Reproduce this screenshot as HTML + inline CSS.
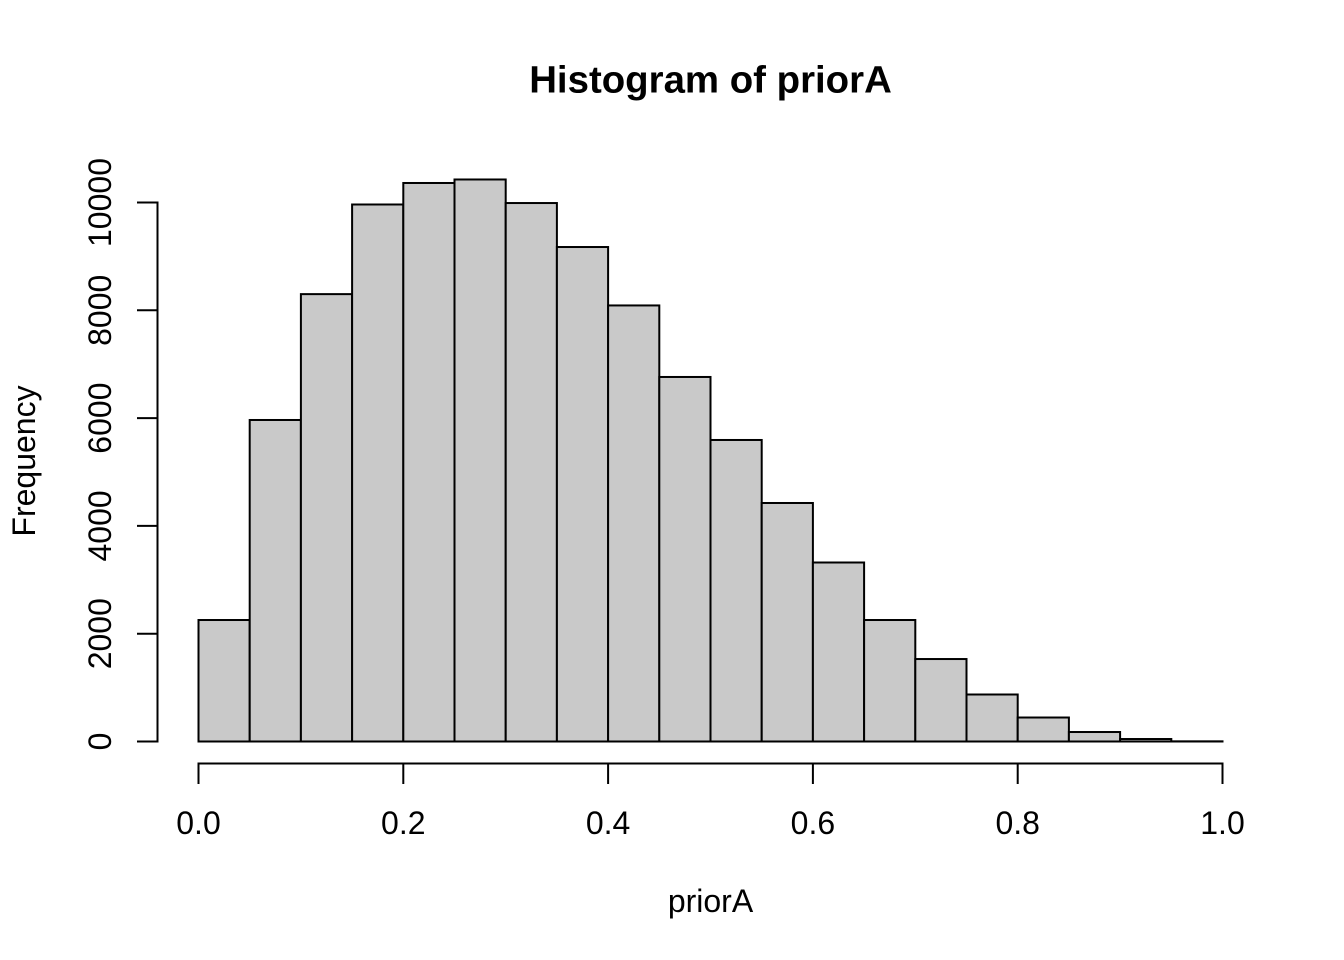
<!DOCTYPE html>
<html>
<head>
<meta charset="utf-8">
<title>Histogram of priorA</title>
<style>
html,body{margin:0;padding:0;background:#fff;}
svg{display:block;}
text{font-family:"Liberation Sans",Arial,sans-serif;fill:#000;}
</style>
</head>
<body>
<svg id="chart" xmlns="http://www.w3.org/2000/svg" width="1344" height="960" viewBox="0 0 1344 960">
  <rect width="1344" height="960" fill="#fff"></rect>
  <text x="710.5" y="92.5" font-size="38.4" font-weight="bold" text-anchor="middle">Histogram of priorA</text>
  <text x="710.5" y="912" font-size="32" text-anchor="middle">priorA</text>
  <text transform="translate(35,461) rotate(-90)" font-size="32" text-anchor="middle">Frequency</text>
  <g id="bars"></g>
  <g id="xaxis"></g>
  <g id="yaxis"></g>
</svg>
<script>
const binEdges = [0,0.05,0.1,0.15,0.2,0.25,0.3,0.35,0.4,0.45,0.5,0.55,0.6,0.65,0.7,0.75,0.8,0.85,0.9,0.95,1.0];
const counts = [2254,5965,8300,9963,10362,10427,9990,9174,8090,6763,5594,4425,3321,2254,1530,872,445,176,46,3];
const xTicks = [0,0.2,0.4,0.6,0.8,1.0];
const xTickLabels = ["0.0","0.2","0.4","0.6","0.8","1.0"];
const yTicks = [0,2000,4000,6000,8000,10000];
const yTickLabels = ["0","2000","4000","6000","8000","10000"];

const NS = "http://www.w3.org/2000/svg";
const xScale = v => 198.5 + v * 1024;
const yScale = v => 741.5 - v * 0.0539;

function make(parent, tag, attrs) {
  const el = document.createElementNS(NS, tag);
  for (const k in attrs) el.setAttribute(k, attrs[k]);
  parent.appendChild(el);
  return el;
}

const barsG = document.getElementById("bars");
counts.forEach((c, i) => {
  const x0 = xScale(binEdges[i]);
  const x1 = xScale(binEdges[i + 1]);
  const y = yScale(c);
  const bar = make(barsG, "rect", {x: x0, y: y, width: x1 - x0, height: yScale(0) - y, fill: "#c9c9c9", stroke: "#000", "stroke-width": 2});
  
  
});

const xG = document.getElementById("xaxis");
const xLine = make(xG, "line", {x1: xScale(xTicks[0]), x2: xScale(xTicks[xTicks.length - 1]), y1: 763.5, y2: 763.5, stroke: "#000", "stroke-width": 2, "stroke-linecap": "square"});


xTicks.forEach((t, i) => {
  const tick = make(xG, "line", {x1: xScale(t), x2: xScale(t), y1: 763.5, y2: 784, stroke: "#000", "stroke-width": 2});
  
  
  const label = make(xG, "text", {x: xScale(t), y: 834, "font-size": 32, "text-anchor": "middle"});
  label.textContent = xTickLabels[i];
  
  
});

const yG = document.getElementById("yaxis");
const yLine = make(yG, "line", {x1: 157.5, x2: 157.5, y1: yScale(yTicks[0]), y2: yScale(yTicks[yTicks.length - 1]), stroke: "#000", "stroke-width": 2, "stroke-linecap": "square"});


yTicks.forEach((t, i) => {
  const tick = make(yG, "line", {x1: 137, x2: 157.5, y1: yScale(t), y2: yScale(t), stroke: "#000", "stroke-width": 2});
  
  
  const label = make(yG, "text", {transform: "translate(111," + yScale(t) + ") rotate(-90)", "font-size": 32, "text-anchor": "middle"});
  label.textContent = yTickLabels[i];
  
  
});
</script>
</body>
</html>
